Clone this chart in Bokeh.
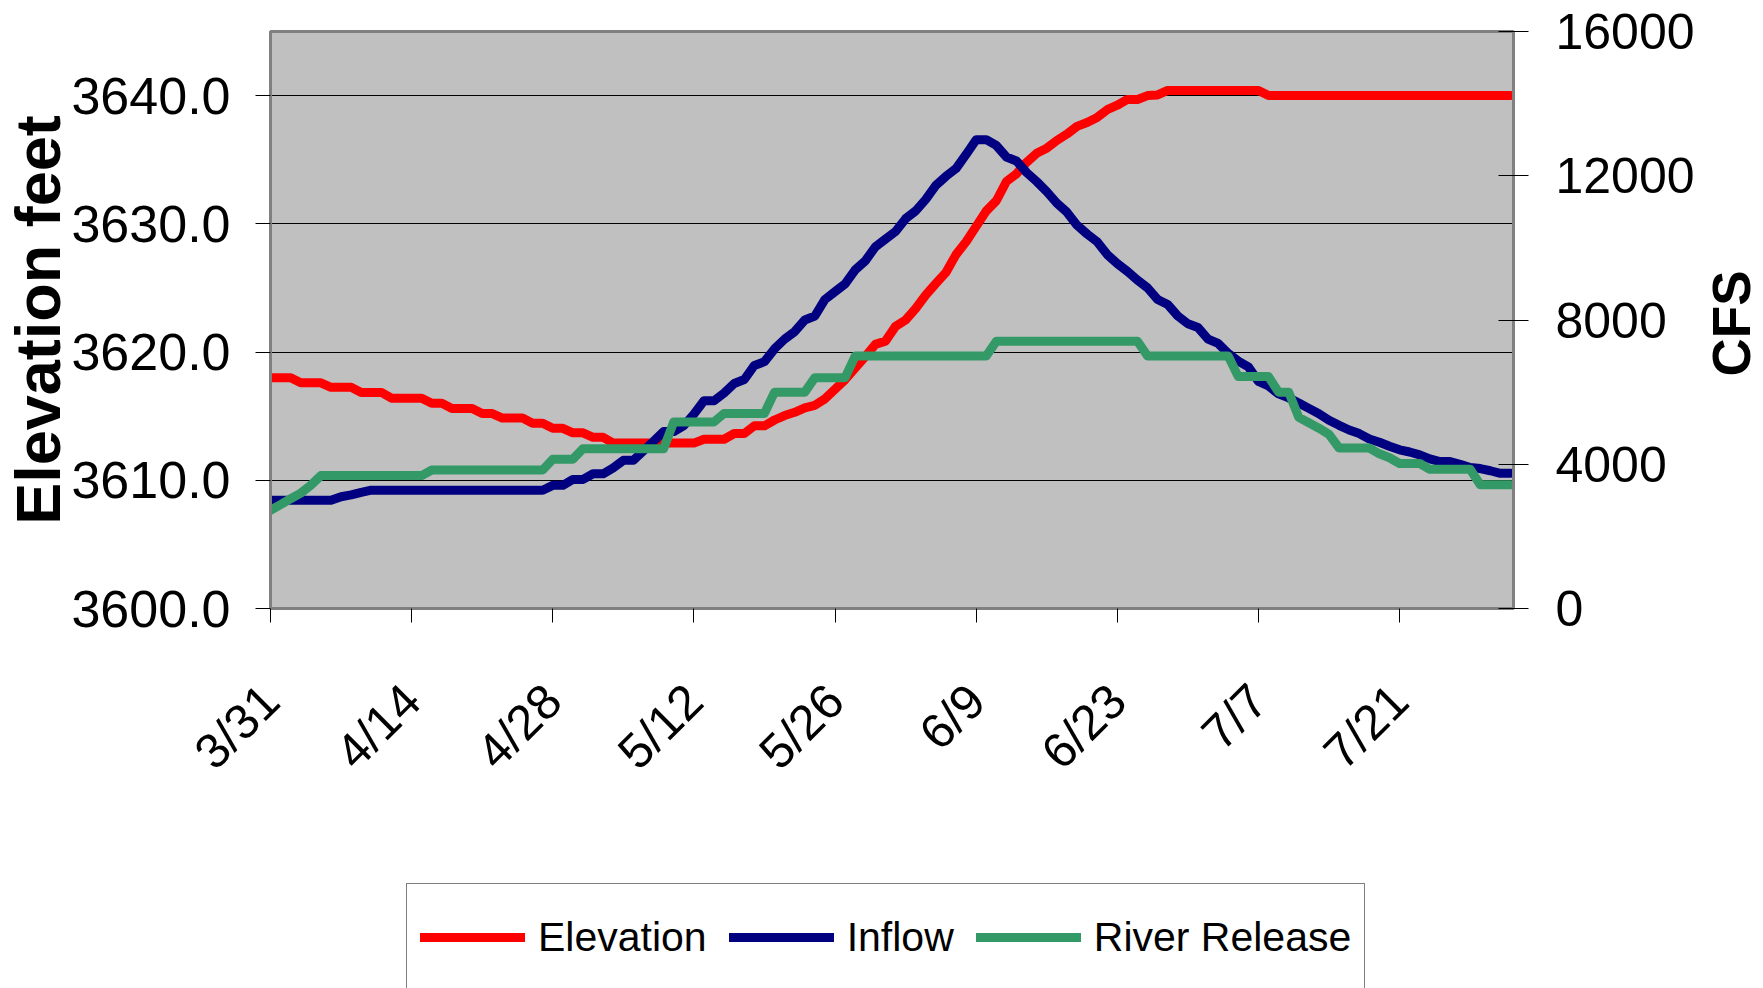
from math import pi
from bokeh.plotting import figure
from bokeh.layouts import column, row
from bokeh.models import (Range1d, LinearAxis, FixedTicker, NumeralTickFormatter,
                          Legend, LegendItem, Label)
from bokeh.embed import file_html
from bokeh.resources import INLINE

# ---------------- data (daily values, 3/31 .. 8/1) ----------------
day_index = list(range(124))
tick_days = [0, 14, 28, 42, 56, 70, 84, 98, 112]
tick_labels = ["3/31", "4/14", "4/28", "5/12", "5/26", "6/9", "6/23", "7/7", "7/21"]

elevation = [
    3618.0, 3618.0, 3618.0, 3617.6, 3617.6, 3617.6, 3617.25, 3617.25, 3617.25, 3616.85,
    3616.85, 3616.85, 3616.4, 3616.4, 3616.4, 3616.4, 3616.0, 3616.0, 3615.6, 3615.6,
    3615.6, 3615.2, 3615.2, 3614.85, 3614.85, 3614.85, 3614.45, 3614.45, 3614.05, 3614.05,
    3613.7, 3613.7, 3613.35, 3613.35, 3612.9, 3612.9, 3612.9, 3612.9, 3612.9, 3612.9,
    3612.9, 3612.9, 3612.9, 3613.2, 3613.2, 3613.2, 3613.65, 3613.65, 3614.25, 3614.25,
    3614.7, 3615.05, 3615.3, 3615.65, 3615.85, 3616.35, 3617.1, 3617.85, 3618.75, 3619.65,
    3620.6, 3620.85, 3622.0, 3622.5, 3623.4, 3624.45, 3625.35, 3626.2, 3627.6, 3628.6,
    3629.8, 3631.0, 3631.8, 3633.3, 3633.9, 3634.8, 3635.5, 3635.9, 3636.5, 3637.0,
    3637.6, 3637.9, 3638.3, 3638.9, 3639.25, 3639.7, 3639.7, 3640.0, 3640.05, 3640.4,
    3640.4, 3640.4, 3640.4, 3640.4, 3640.4, 3640.4, 3640.4, 3640.4, 3640.4, 3640.0,
    3640.0, 3640.0, 3640.0, 3640.0, 3640.0, 3640.0, 3640.0, 3640.0, 3640.0, 3640.0,
    3640.0, 3640.0, 3640.0, 3640.0, 3640.0, 3640.0, 3640.0, 3640.0, 3640.0, 3640.0,
    3640.0, 3640.0, 3640.0, 3640.0,
]

inflow = [
    3000, 3000, 3000, 3000, 3000, 3000, 3000, 3100, 3150, 3220,
    3280, 3280, 3280, 3280, 3280, 3280, 3280, 3280, 3280, 3280,
    3280, 3280, 3280, 3280, 3280, 3280, 3280, 3280, 3415, 3415,
    3580, 3580, 3735, 3735, 3900, 4110, 4110, 4375, 4640, 4905,
    4905, 5070, 5390, 5760, 5760, 5975, 6240, 6350, 6740, 6845,
    7200, 7470, 7680, 8000, 8110, 8570, 8785, 9000, 9390, 9640,
    10030, 10240, 10455, 10810, 11025, 11345, 11735, 11985, 12200, 12590,
    13000, 13000, 12840, 12520, 12410, 12090, 11840, 11560, 11240, 10990,
    10630, 10385, 10170, 9815, 9565, 9350, 9105, 8890, 8570, 8430,
    8110, 7895, 7790, 7470, 7350, 7075, 6860, 6700, 6300, 6170,
    5950, 5840, 5700, 5550, 5400, 5220, 5080, 4950, 4850, 4700,
    4610, 4500, 4400, 4340, 4260, 4150, 4075, 4075, 4000, 3910,
    3880, 3820, 3750, 3750,
]

river_release = [
    2725, 2880, 3045, 3200, 3420, 3685, 3685, 3685, 3685, 3685,
    3685, 3685, 3685, 3685, 3685, 3685, 3840, 3840, 3840, 3840,
    3840, 3840, 3840, 3840, 3840, 3840, 3840, 3840, 4140, 4140,
    4140, 4430, 4430, 4430, 4430, 4430, 4430, 4430, 4430, 4430,
    5175, 5175, 5175, 5175, 5175, 5410, 5410, 5410, 5410, 5410,
    6000, 6000, 6000, 6000, 6400, 6400, 6400, 6400, 7000, 7000,
    7000, 7000, 7000, 7000, 7000, 7000, 7000, 7000, 7000, 7000,
    7000, 7000, 7410, 7410, 7410, 7410, 7410, 7410, 7410, 7410,
    7410, 7410, 7410, 7410, 7410, 7410, 7410, 7000, 7000, 7000,
    7000, 7000, 7000, 7000, 7000, 7000, 6430, 6430, 6430, 6430,
    6000, 6000, 5300, 5150, 5000, 4830, 4450, 4450, 4450, 4450,
    4290, 4180, 4020, 4020, 4020, 3860, 3860, 3860, 3860, 3860,
    3430, 3430, 3430, 3430,
]

series_names = ["Elevation", "Inflow", "River Release"]
series_colors = ["#FF0000", "#000080", "#339966"]
elev_ticks = [3600, 3610, 3620, 3630, 3640]
cfs_ticks = [0, 4000, 8000, 12000, 16000]

FONT = "Liberation Sans"

# ---------------- main chart ----------------
p = figure(width=1700, height=870, output_backend="svg", toolbar_location=None,
           x_range=Range1d(0, 123.3), y_range=Range1d(3600, 3645),
           min_border_left=270, min_border_right=187, min_border_top=31,
           min_border_bottom=262)
p.extra_y_ranges = {"cfs": Range1d(0, 16000)}

p.background_fill_color = "#C0C0C0"
p.border_fill_color = "white"
p.outline_line_color = "#808080"
p.outline_line_width = 3

p.xgrid.grid_line_color = None
p.ygrid.ticker = FixedTicker(ticks=elev_ticks[1:])
p.ygrid.grid_line_color = "black"
p.ygrid.grid_line_width = 1

# left axis
ya = p.yaxis[0]
ya.ticker = FixedTicker(ticks=elev_ticks)
ya.formatter = NumeralTickFormatter(format="0.0")
ya.major_tick_out = 15
ya.major_tick_in = 0
ya.minor_tick_line_color = None
ya.major_tick_line_color = "black"
ya.axis_line_color = "#808080"
ya.axis_line_width = 3
ya.major_label_standoff = 25
ya.major_label_text_font = FONT
ya.major_label_text_font_size = "52px"
ya.major_label_text_color = "black"
ya.axis_label = "Elevation feet"
ya.axis_label_standoff = -5
ya.axis_label_text_font = FONT
ya.axis_label_text_font_style = "bold"
ya.axis_label_text_font_size = "63px"
ya.axis_label_text_color = "black"

# right axis
ra = LinearAxis(y_range_name="cfs")
ra.ticker = FixedTicker(ticks=cfs_ticks)
ra.formatter = NumeralTickFormatter(format="0")
ra.major_tick_out = 15
ra.major_tick_in = 15
ra.minor_tick_line_color = None
ra.major_tick_line_color = "black"
ra.axis_line_color = "#808080"
ra.axis_line_width = 3
ra.major_label_standoff = 27
ra.major_label_text_font = FONT
ra.major_label_text_font_size = "50px"
ra.major_label_text_color = "black"
p.add_layout(ra, "right")

# bottom axis
xa = p.xaxis[0]
xa.ticker = FixedTicker(ticks=tick_days)
xa.major_label_overrides = {d: lab for d, lab in zip(tick_days, tick_labels)}
xa.major_label_orientation = pi / 4
xa.major_tick_out = 14
xa.major_tick_in = 0
xa.minor_tick_line_color = None
xa.major_tick_line_color = "black"
xa.axis_line_color = "#808080"
xa.axis_line_width = 3
xa.major_label_standoff = 70
xa.major_label_text_font = FONT
xa.major_label_text_font_size = "49px"
xa.major_label_text_color = "black"

series_values = [elevation, inflow, river_release]
series_ranges = ["default", "cfs", "cfs"]
for vals, col, rng in zip(series_values, series_colors, series_ranges):
    p.line(day_index, vals, line_color=col, line_width=9, line_join="round",
           line_cap="round", y_range_name=rng)

# ---------------- right-hand axis title (reads bottom to top) ----------------
cfs_title = figure(width=63, height=870, output_backend="svg", toolbar_location=None,
                   x_range=Range1d(0, 1), y_range=Range1d(0, 1),
                   min_border=0, min_border_left=0, min_border_right=0,
                   min_border_top=0, min_border_bottom=0)
cfs_title.axis.visible = False
cfs_title.grid.visible = False
cfs_title.outline_line_color = None
cfs_title.background_fill_color = "white"
cfs_title.border_fill_color = "white"
cfs_title.add_layout(Label(x=31, y=285, x_units="screen", y_units="screen",
                           text="CFS", angle=pi / 2, text_align="center",
                           text_baseline="middle", text_font=FONT,
                           text_font_style="bold", text_font_size="53px",
                           text_color="black"))

# ---------------- legend strip ----------------
leg = figure(width=1763, height=118, output_backend="svg", toolbar_location=None,
             x_range=Range1d(1000, 1001), y_range=Range1d(0, 1),
             min_border=0, min_border_left=0, min_border_right=0,
             min_border_top=0, min_border_bottom=0)
leg.axis.visible = False
leg.grid.visible = False
leg.outline_line_color = None
leg.background_fill_color = "white"
leg.border_fill_color = "white"
items = []
for name, vals, col in zip(series_names, series_values, series_colors):
    r = leg.line(day_index, vals, line_color=col, line_width=9, line_join="round",
                 line_cap="round")
    items.append(LegendItem(label=name, renderers=[r]))
legend = Legend(items=items, location=(406, -3), orientation="horizontal", margin=0,
                glyph_width=105, glyph_height=20, label_standoff=13, spacing=22,
                padding=13, label_height=80,
                border_line_color="black", border_line_width=1,
                background_fill_color="white", background_fill_alpha=1.0,
                label_text_font=FONT, label_text_font_size="41px",
                label_text_color="black")
leg.add_layout(legend)

layout = column(row(p, cfs_title, spacing=0), leg, spacing=0)

open("out.html", "w").write(file_html(layout, INLINE))
